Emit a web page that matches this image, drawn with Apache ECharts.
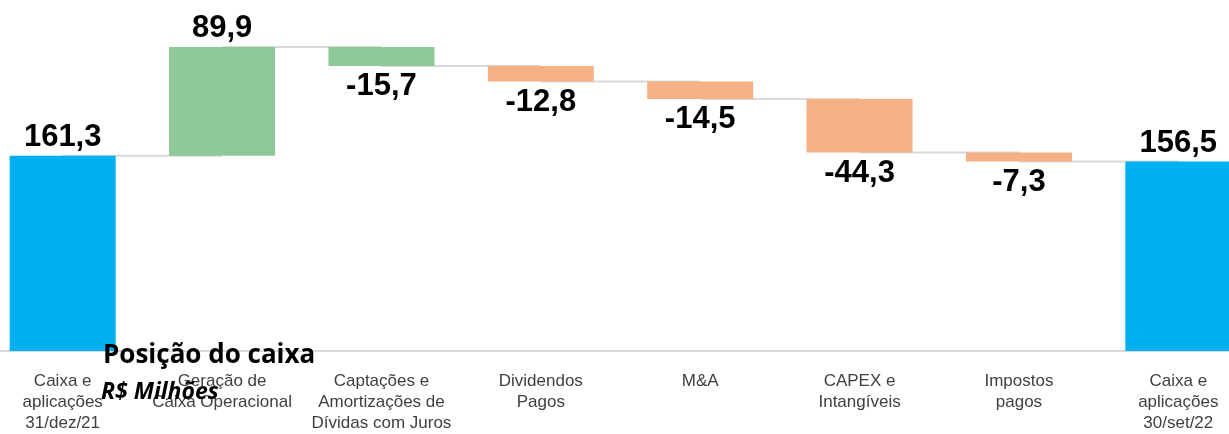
<!DOCTYPE html>
<html>
<head>
<meta charset="utf-8">
<script src="https://cdn.jsdelivr.net/npm/echarts@6/dist/echarts.min.js"></script>
<style>
  html, body { margin: 0; padding: 0; background: #fff; overflow: hidden; }
  #chart { width: 1275px; height: 434px; margin-left: -17px; }
</style>
</head>
<body>
<div id="chart"></div>
<script>
// dados do gráfico
var categorias = [
    'Caixa e\naplicações\n31/dez/21',
    'Geração de\nCaixa Operacional',
    'Captações e\nAmortizações de\nDívidas com Juros',
    'Dividendos\nPagos',
    'M&A',
    'CAPEX e\nIntangíveis',
    'Impostos\npagos',
    'Caixa e\naplicações\n30/set/22'
];
var valores = [161.3, 89.9, -15.7, -12.8, -14.5, -44.3, -7.3, 156.5];
var totais = [true, false, false, false, false, false, false, true];
var cores = ['#00B0F0', '#8FC99A', '#8FC99A', '#F4B183', '#F4B183', '#F4B183', '#F4B183', '#00B0F0'];

// base invisivel + altura visivel (cascata)
var base = [], altura = [], niveis = [];
var acum = 0;
for (var i = 0; i < valores.length; i++) {
    if (totais[i]) {
        base.push(0);
        altura.push(valores[i]);
        acum = valores[i];
    } else {
        var novo = acum + valores[i];
        base.push(Math.min(acum, novo));
        altura.push(Math.abs(valores[i]));
        acum = novo;
    }
    niveis.push(acum);
}
// linhas de ligacao entre barras
var ligacoes = [];
for (var j = 0; j < valores.length - 1; j++) {
    ligacoes.push([j, niveis[j]]);
}

var myChart = echarts.init(document.getElementById('chart'));

var option = {
    backgroundColor: '#fff',
    animation: false,
    grid: {
        left: 0,
        right: 0,
        top: 0,
        bottom: 82
    },
    xAxis: {
        type: 'category',
        data: categorias,
        axisLine: { lineStyle: { color: '#d9d9d9', width: 2 } },
        axisTick: { show: false },
        axisLabel: {
            interval: 0,
            color: '#404040',
            fontFamily: 'Liberation Sans',
            fontSize: 17,
            lineHeight: 21,
            margin: 20
        }
    },
    yAxis: {
        type: 'value',
        min: 0,
        max: 290,
        show: false,
        splitLine: { show: false }
    },
    graphic: [
        {
            type: 'text',
            left: 120,
            top: 343,
            z: 100,
            style: {
                text: 'Posição do caixa',
                fill: '#000',
                font: 'bold 26px "Open Sans"'
            }
        },
        {
            type: 'text',
            left: 118,
            top: 381,
            z: 100,
            style: {
                text: 'R$ Milhões',
                fill: '#000',
                font: 'italic bold 23px "Open Sans"'
            }
        }
    ],
    series: [
        {
            type: 'custom',
            z: 1,
            silent: true,
            data: ligacoes,
            renderItem: function (params, api) {
                var p1 = api.coord([api.value(0), api.value(1)]);
                var p2 = api.coord([api.value(0) + 1, api.value(1)]);
                return {
                    type: 'line',
                    shape: { x1: p1[0], y1: p1[1], x2: p2[0], y2: p2[1] },
                    style: { stroke: '#d9d9d9', lineWidth: 2 }
                };
            }
        },
        {
            type: 'bar',
            stack: 'cascata',
            z: 2,
            barWidth: 106,
            itemStyle: { color: 'transparent' },
            data: base
        },
        {
            type: 'bar',
            stack: 'cascata',
            z: 2,
            barWidth: 106,
            data: altura.map(function (h, k) {
                return {
                    value: h,
                    itemStyle: { color: cores[k] },
                    label: {
                        position: valores[k] < 0 ? 'bottom' : 'top',
                        distance: valores[k] < 0 ? 5 : 3
                    }
                };
            }),
            label: {
                show: true,
                color: '#000',
                fontFamily: 'Liberation Sans',
                fontWeight: 'bold',
                fontSize: 31,
                formatter: function (p) {
                    return valores[p.dataIndex].toFixed(1).replace('.', ',');
                }
            }
        }
    ]
};

myChart.setOption(option);
</script>
</body>
</html>
